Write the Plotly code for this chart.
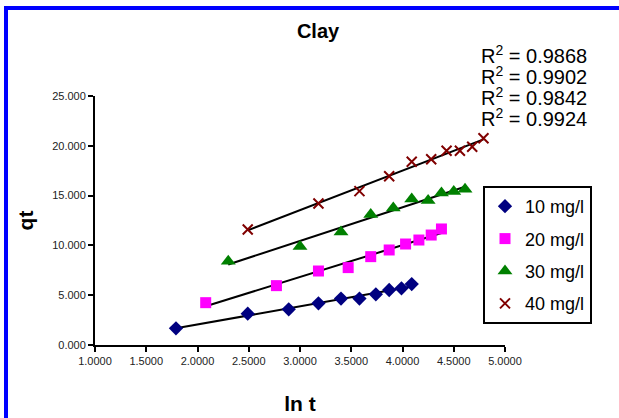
import numpy as np
import plotly.graph_objects as go

# ---- data ----
x10 = [1.79, 2.49, 2.89, 3.18, 3.40, 3.58, 3.74, 3.87, 3.99, 4.09]
y10 = [1.67, 3.15, 3.58, 4.18, 4.66, 4.66, 5.09, 5.52, 5.69, 6.12]

x20 = [2.08, 2.77, 3.18, 3.47, 3.69, 3.87, 4.03, 4.16, 4.28, 4.38]
y20 = [4.25, 5.96, 7.43, 7.77, 8.87, 9.54, 10.14, 10.54, 11.04, 11.65]

x30 = [2.30, 3.00, 3.40, 3.69, 3.91, 4.09, 4.25, 4.38, 4.50, 4.61]
y30 = [8.40, 9.90, 11.35, 13.10, 13.75, 14.65, 14.50, 15.25, 15.40, 15.65]

x40 = [2.49, 3.18, 3.58, 3.87, 4.09, 4.28, 4.43, 4.56, 4.68, 4.79]
y40 = [11.60, 14.20, 15.45, 16.95, 18.40, 18.65, 19.50, 19.50, 19.90, 20.75]

series_names = ["10 mg/l", "20 mg/l", "30 mg/l", "40 mg/l"]
r2_labels = ["0.9868", "0.9902", "0.9842", "0.9924"]

x_ticks = [1.0, 1.5, 2.0, 2.5, 3.0, 3.5, 4.0, 4.5, 5.0]
y_ticks = [0, 5, 10, 15, 20, 25]

PL, PR, PT, PB = 95, 505, 96, 345   # plot area in page pixels
PW, PH = PR - PL, PB - PT


def px(x):
    return (x - PL) / PW


def py(y):
    return (PB - y) / PH


# ---- styles ----
styles = [
    dict(symbol="diamond", color="#000080", size=11, line=dict(width=0)),
    dict(symbol="square", color="#FF00FF", size=11, line=dict(width=0)),
    dict(symbol="triangle-up", color="#008000", size=13, line=dict(width=0)),
    dict(symbol="x-thin-open", color="#800000", size=10, line=dict(width=2, color="#800000")),
]

fig = go.Figure()
all_data = [(x10, y10), (x20, y20), (x30, y30), (x40, y40)]

# trend lines (linear fit of each series)
for (xs, ys), name in zip(all_data, series_names):
    xs_a = np.array(xs)
    slope, icpt = np.polyfit(xs_a, np.array(ys), 1)
    xl = [xs_a.min(), xs_a.max()]
    fig.add_trace(go.Scatter(x=xl, y=[slope * v + icpt for v in xl], mode="lines",
                             line=dict(color="black", width=2), showlegend=False,
                             hoverinfo="skip"))

for i, ((xs, ys), name) in enumerate(zip(all_data, series_names)):
    fig.add_trace(go.Scatter(x=xs, y=ys, mode="markers", name=name,
                             marker=styles[i], legendgroup=f"g{i}", cliponaxis=False))

# R^2 annotations
r2_y = [55, 75, 96, 117]
for lab, yy in zip(r2_labels, r2_y):
    fig.add_annotation(text=f"R<sup>2</sup> = {lab}", xref="paper", yref="paper",
                       x=px(479), y=py(yy), xanchor="left", yanchor="middle",
                       showarrow=False, font=dict(family="Liberation Sans, Arial", size=20, color="black"))

# blue frame
fig.add_shape(type="rect", xref="paper", yref="paper",
              x0=px(6), x1=px(640), y0=py(440), y1=py(8),
              line=dict(color="#0000FF", width=4), fillcolor="rgba(0,0,0,0)", layer="below")

W, H = 619, 418
fig.update_layout(
    width=W, height=H,
    margin=dict(l=PL, r=W - PR, t=PT, b=H - PB, autoexpand=False),
    paper_bgcolor="white", plot_bgcolor="white",
    font=dict(family="Liberation Sans, Arial", color="black"),
    title=dict(text="<b>Clay</b>", x=318 / W, xanchor="center", y=1 - 31 / H,
               yanchor="middle", font=dict(size=20, color="black")),
    showlegend=True,
    legend=dict(x=px(483), y=py(186), xanchor="left", yanchor="top",
                bgcolor="white", bordercolor="black", borderwidth=2,
                font=dict(size=18, color="black"), tracegroupgap=6,
                itemwidth=30, itemsizing="trace"),
    xaxis=dict(range=[1, 5], tickvals=x_ticks, tickformat=".4f", showgrid=False, zeroline=False,
               showline=True, linecolor="black", linewidth=2, ticks="outside", ticklen=5,
               tickcolor="black", tickwidth=1.5, tickfont=dict(size=11, color="#222"),
               title=dict(text="<b>ln t</b>", font=dict(size=21, color="black"), standoff=30)),
    yaxis=dict(range=[0, 25], tickvals=y_ticks, tickformat=".3f", showgrid=False, zeroline=False,
               showline=True, linecolor="black", linewidth=2, ticks="outside", ticklen=5,
               tickcolor="black", tickwidth=1.5, tickfont=dict(size=11, color="#222"),
               title=dict(text="<b>qt</b>", font=dict(size=21, color="black"), standoff=13)),
)

fig.write_html("out.html", config={"displayModeBar": False},
               post_script="document.body.style.margin='0px';")
